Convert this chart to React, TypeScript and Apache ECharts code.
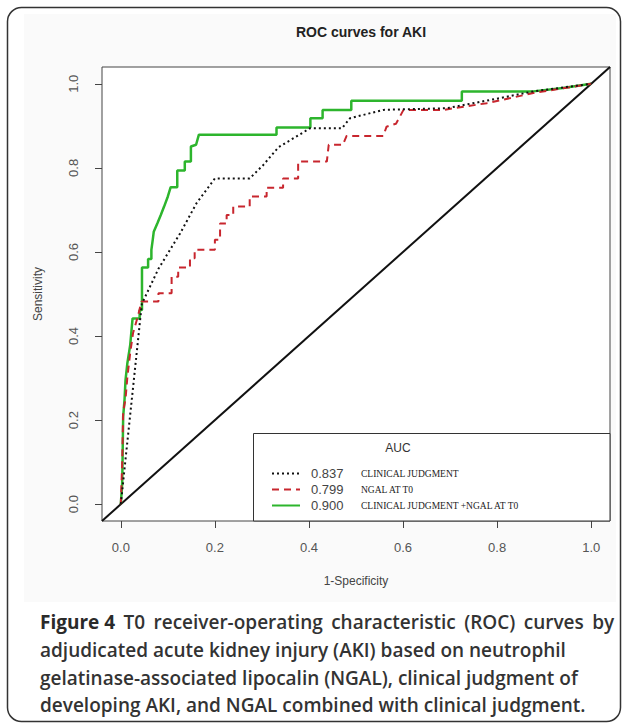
import React, { useEffect, useRef } from "react";
import * as echarts from "echarts";

const seriesNames = ["CLINICAL JUDGMENT", "NGAL AT T0", "CLINICAL JUDGMENT +NGAL AT T0"];
const aucValues = ["0.837", "0.799", "0.900"];
const tickValues = [0, 0.2, 0.4, 0.6, 0.8, 1.0];

const clinical: number[][] = [
  [0, 0], [0.045, 0.48], [0.047, 0.482], [0.08, 0.56], [0.126, 0.644], [0.161, 0.716],
  [0.2, 0.775], [0.274, 0.775], [0.303, 0.807], [0.335, 0.849], [0.402, 0.894],
  [0.47, 0.894], [0.487, 0.918], [0.558, 0.938], [0.693, 0.942], [0.806, 0.966],
  [0.877, 0.982], [1, 1],
];

const ngal: number[][] = [
  [0, 0], [0.003, 0.1], [0.005, 0.22], [0.01, 0.25], [0.014, 0.303], [0.02, 0.36],
  [0.026, 0.407], [0.036, 0.446], [0.044, 0.482], [0.08, 0.482], [0.08, 0.502],
  [0.108, 0.502], [0.108, 0.541], [0.122, 0.541], [0.122, 0.563], [0.147, 0.563],
  [0.147, 0.585], [0.157, 0.585], [0.157, 0.605], [0.2, 0.605], [0.2, 0.629],
  [0.211, 0.629], [0.211, 0.668], [0.225, 0.668], [0.225, 0.688], [0.239, 0.688],
  [0.239, 0.708], [0.274, 0.708], [0.274, 0.732], [0.31, 0.732], [0.31, 0.753],
  [0.345, 0.753], [0.345, 0.775], [0.377, 0.775], [0.377, 0.815], [0.438, 0.815],
  [0.442, 0.855], [0.472, 0.855], [0.48, 0.876], [0.558, 0.876], [0.565, 0.898],
  [0.585, 0.905], [0.601, 0.938], [0.686, 0.938], [0.778, 0.954], [0.877, 0.978],
  [1, 1],
];

const combined: number[][] = [
  [0, 0], [0.003, 0.05], [0.005, 0.208], [0.008, 0.25], [0.01, 0.295], [0.014, 0.336],
  [0.02, 0.379], [0.025, 0.442], [0.04, 0.442], [0.04, 0.462], [0.045, 0.462],
  [0.045, 0.563], [0.058, 0.563], [0.058, 0.583], [0.065, 0.583], [0.065, 0.605],
  [0.068, 0.63], [0.07, 0.648], [0.078, 0.669], [0.085, 0.688], [0.092, 0.708],
  [0.1, 0.732], [0.106, 0.754], [0.12, 0.754], [0.12, 0.794], [0.136, 0.794],
  [0.136, 0.815], [0.149, 0.815], [0.149, 0.851], [0.16, 0.855], [0.166, 0.879],
  [0.331, 0.879], [0.331, 0.896], [0.403, 0.896], [0.403, 0.918], [0.429, 0.918],
  [0.429, 0.938], [0.49, 0.938], [0.49, 0.96], [0.725, 0.96], [0.725, 0.982],
  [0.877, 0.982], [0.94, 0.99], [1, 1],
];

const chance: number[][] = [[-0.04, -0.04], [1.04, 1.04]];

const captionLines = [
  "{b|Figure 4}{s| }T0{s| }receiver-operating{s| }characteristic{s| }(ROC){s| }curves{s| }by",
  "adjudicated acute kidney injury (AKI) based on neutrophil",
  "gelatinase-associated lipocalin (NGAL), clinical judgment of",
  "developing AKI, and NGAL combined with clinical judgment.",
];

export default function App() {
  const ref = useRef<HTMLDivElement>(null);
  useEffect(() => {
    if (!ref.current) return;
    const chart = echarts.init(ref.current, null, { renderer: "svg" });
    const axisFont = "Liberation Sans";
    const option: any = {
      animation: false,
      backgroundColor: "#ffffff",
      title: {
        text: "ROC curves for AKI",
        left: 356,
        top: 20,
        textAlign: "center",
        textStyle: { fontFamily: axisFont, fontSize: 14, fontWeight: "bold", color: "#222" },
      },
      grid: {
        left: 102, top: 67, width: 508, height: 454,
        show: true, borderColor: "#444", borderWidth: 1, backgroundColor: "#ffffff",
      },
      xAxis: {
        type: "value", min: -0.04, max: 1.04,
        name: "1-Specificity", nameLocation: "middle", nameGap: 54,
        nameTextStyle: { fontFamily: axisFont, fontSize: 12, color: "#444" },
        axisLine: { show: false, onZero: false },
        splitLine: { show: false },
        axisTick: { show: true, inside: false, length: 7, customValues: tickValues, lineStyle: { color: "#444" } },
        axisLabel: {
          customValues: tickValues, margin: 20, fontFamily: axisFont, fontSize: 13, color: "#555",
          formatter: (v: number) => v.toFixed(1),
        },
      },
      yAxis: {
        type: "value", min: -0.04, max: 1.04,
        name: "Sensitivity", nameLocation: "middle", nameGap: 58, nameRotate: 90,
        nameTextStyle: { fontFamily: axisFont, fontSize: 12, color: "#444" },
        axisLine: { show: false, onZero: false },
        splitLine: { show: false },
        axisTick: { show: true, inside: false, length: 7, customValues: tickValues, lineStyle: { color: "#444" } },
        axisLabel: {
          customValues: tickValues, margin: 22, rotate: 90, fontFamily: axisFont, fontSize: 13, color: "#555",
          formatter: (v: number) => v.toFixed(1),
        },
      },
      legend: {
        orient: "vertical",
        left: 266,
        top: 462,
        z: 20,
        itemWidth: 28,
        itemHeight: 13,
        itemGap: 3,
        itemStyle: { opacity: 0 },
        data: seriesNames,
        formatter: (name: string) => {
          const i = seriesNames.indexOf(name);
          return `{v|${aucValues[i]}}{l|${name}}`;
        },
        textStyle: {
          rich: {
            v: { fontFamily: axisFont, fontSize: 13, color: "#444", width: 50, padding: [0, 0, 0, 6], lineHeight: 13 },
            l: { fontFamily: "Liberation Serif", fontSize: 9.5, color: "#222", lineHeight: 13 },
          },
        },
      },
      graphic: [
        {
          type: "rect", z: -10, silent: true,
          shape: { x: 24, y: 14, width: 592, height: 588 },
          style: { fill: "#fafafa" },
        },
        {
          type: "rect", z: 100, silent: true,
          shape: { x: 7.5, y: 7.5, width: 613, height: 714, r: 14 },
          style: { fill: "none", stroke: "#333", lineWidth: 1.5 },
        },
        {
          type: "rect", z: 3, silent: true,
          shape: { x: 253.5, y: 433.5, width: 356.5, height: 87.5 },
          style: { fill: "#ffffff", stroke: "#333", lineWidth: 1 },
        },
        {
          type: "text", z: 60, silent: true,
          x: 398, y: 448,
          style: { text: "AUC", fontFamily: axisFont, fontSize: 12, fill: "#333", align: "center", verticalAlign: "middle" },
        },
        ...captionLines.map((t, i) => ({
          type: "text", z: 60, silent: true,
          x: 40, y: 622 + i * 27.8,
          style: {
            text: t,
            fontFamily: "Open Sans",
            fontSize: 19,
            fontWeight: 600,
            fill: "#333",
            verticalAlign: "middle",
            rich: {
              b: { fontFamily: "Open Sans", fontSize: 19, fontWeight: "bold", fill: "#2a2a2a" },
              s: { fontFamily: "Open Sans", fontSize: 19, width: 8.4 },
            },
          },
        })),
      ],
      series: [
        {
          name: "chance", type: "line", data: chance, symbol: "none", silent: true,
          lineStyle: { color: "#111", width: 2 }, z: 2,
        },
        {
          name: seriesNames[2], type: "line", data: combined, symbol: "none",
          lineStyle: { color: "#2db52d", width: 2.5, type: "solid" }, itemStyle: { color: "#2db52d" }, z: 3,
        },
        {
          name: seriesNames[1], type: "line", data: ngal, symbol: "none",
          lineStyle: { color: "#c8262e", width: 2, type: [7, 5] }, itemStyle: { color: "#c8262e" }, z: 4,
        },
        {
          name: seriesNames[0], type: "line", data: clinical, symbol: "none",
          lineStyle: { color: "#111", width: 2, type: [2, 3] }, itemStyle: { color: "#111" }, z: 5,
        },
      ],
    };
    chart.setOption(option);
    return () => chart.dispose();
  }, []);
  return (
    <div
      ref={ref}
      style={{ position: "fixed", left: 0, top: 0, width: 627, height: 723 }}
    />
  );
}
